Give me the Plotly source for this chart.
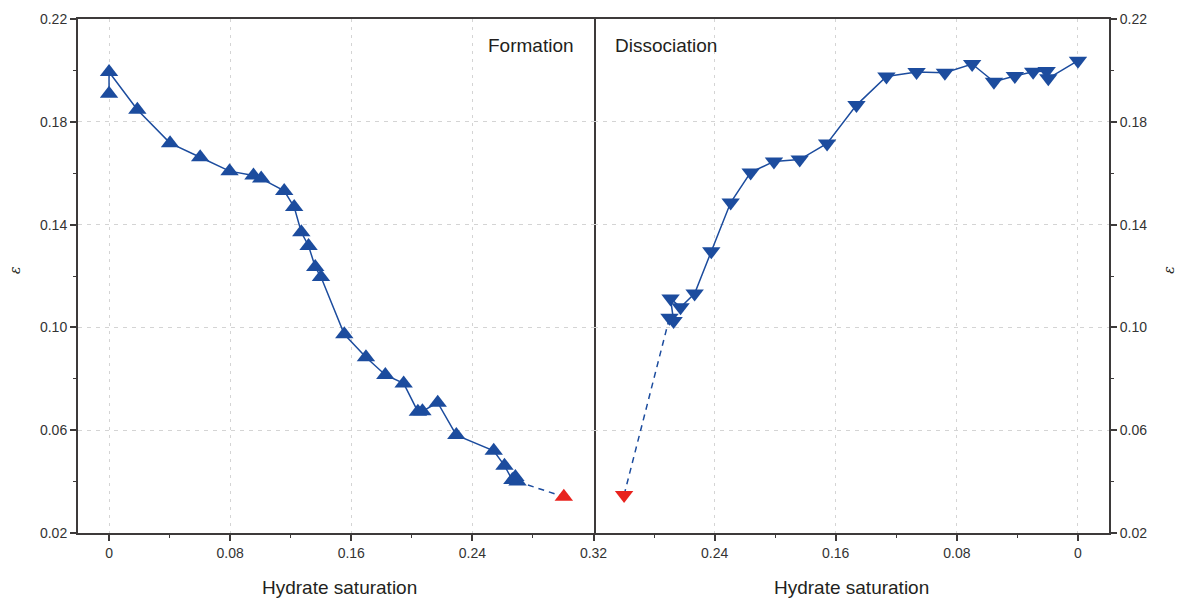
import plotly.graph_objects as go

# ---- data ----
form_x = [0.0, 0.0, 0.0187, 0.0403, 0.0602, 0.0796, 0.0954, 0.1005, 0.1157, 0.1223,
          0.1270, 0.1318, 0.1362, 0.1400, 0.1554, 0.1697, 0.1825, 0.1946, 0.2040, 0.2070,
          0.2171, 0.2294, 0.2541, 0.2612, 0.2664, 0.2684, 0.2698]
form_y = [0.1909, 0.1994, 0.1847, 0.1717, 0.1662, 0.1608, 0.1591, 0.1579, 0.1531, 0.1468,
          0.1370, 0.1317, 0.1235, 0.1196, 0.0973, 0.0884, 0.0815, 0.0782, 0.0672, 0.0674,
          0.0707, 0.0581, 0.0520, 0.0462, 0.0406, 0.0418, 0.0400]
form_end_x = [0.3004]
form_end_y = [0.0341]

diss_start_x = [0.2998]
diss_start_y = [0.0348]
diss_x = [0.2698, 0.2671, 0.2691, 0.2625, 0.2532, 0.2422, 0.2294, 0.2162, 0.2008, 0.1838,
          0.1657, 0.1463, 0.1265, 0.1066, 0.0879, 0.0699, 0.0555, 0.0417, 0.0296, 0.0207,
          0.0196, 0.0]
diss_y = [0.1038, 0.1025, 0.1112, 0.1078, 0.1132, 0.1296, 0.1486, 0.1603, 0.1646, 0.1653,
          0.1716, 0.1865, 0.1976, 0.1994, 0.1991, 0.2025, 0.1956, 0.1978, 0.1995, 0.1998,
          0.1969, 0.2038]

x_left_ticks = [0, 0.08, 0.16, 0.24, 0.32]
x_left_labels = ["0", "0.08", "0.16", "0.24", "0.32"]
x_right_ticks = [0.24, 0.16, 0.08, 0]
x_right_labels = ["0.24", "0.16", "0.08", "0"]
y_ticks = [0.02, 0.06, 0.10, 0.14, 0.18, 0.22]
y_labels = ["0.02", "0.06", "0.10", "0.14", "0.18", "0.22"]

BLUE = "#1c4c9e"
RED = "#e8231e"
AXC = "#3d3a3a"
GRIDC = "#d4d4d4"
FONT = "Liberation Sans, Arial, sans-serif"
MSIZE = 16

fig = go.Figure()

# Formation
fig.add_trace(go.Scatter(x=form_x, y=form_y, mode="lines+markers", xaxis="x", yaxis="y",
                         line=dict(color=BLUE, width=1.5),
                         marker=dict(symbol="triangle-up", size=MSIZE, color=BLUE, line=dict(width=0)),
                         showlegend=False))
fig.add_trace(go.Scatter(x=[form_x[-1]] + form_end_x, y=[form_y[-1]] + form_end_y, mode="lines",
                         xaxis="x", yaxis="y",
                         line=dict(color=BLUE, width=1.5, dash="6px,5px"), showlegend=False))
fig.add_trace(go.Scatter(x=form_end_x, y=form_end_y, mode="markers", xaxis="x", yaxis="y",
                         marker=dict(symbol="triangle-up", size=MSIZE, color=RED, line=dict(width=0)),
                         showlegend=False))

# Dissociation
fig.add_trace(go.Scatter(x=diss_start_x + [diss_x[0]], y=diss_start_y + [diss_y[0]], mode="lines",
                         xaxis="x2", yaxis="y2",
                         line=dict(color=BLUE, width=1.5, dash="6px,5px"), showlegend=False))
fig.add_trace(go.Scatter(x=diss_x, y=diss_y, mode="lines+markers", xaxis="x2", yaxis="y2",
                         line=dict(color=BLUE, width=1.5),
                         marker=dict(symbol="triangle-down", size=MSIZE, color=BLUE, line=dict(width=0)),
                         showlegend=False))
fig.add_trace(go.Scatter(x=diss_start_x, y=diss_start_y, mode="markers", xaxis="x2", yaxis="y2",
                         marker=dict(symbol="triangle-down", size=MSIZE, color=RED, line=dict(width=0)),
                         showlegend=False))

common_x = dict(showline=True, linecolor=AXC, linewidth=2, mirror=True,
                ticks="outside", ticklen=6, tickwidth=1.5, tickcolor=AXC,
                showgrid=True, gridcolor=GRIDC, griddash="3px,5px", gridwidth=1,
                zeroline=False, tickfont=dict(family=FONT, size=14, color="#333333"),
                minor=dict(ticks="outside", ticklen=3, tickwidth=1.2, tickcolor=AXC,
                           dtick=0.04, tick0=0, showgrid=False))
common_y = dict(showline=True, linecolor=AXC, linewidth=2,
                range=[0.02, 0.22], tickvals=y_ticks, ticktext=y_labels,
                ticks="outside", ticklen=6, tickwidth=1.5, tickcolor=AXC,
                showgrid=True, gridcolor=GRIDC, griddash="4px,5px", gridwidth=1,
                zeroline=False, tickfont=dict(family=FONT, size=14, color="#333333"),
                minor=dict(ticks="outside", ticklen=3, tickwidth=1.2, tickcolor=AXC,
                           dtick=0.02, tick0=0.0, showgrid=False))

fig.update_layout(
    width=1182, height=598,
    margin=dict(l=78, r=73, t=19, b=65),
    paper_bgcolor="white", plot_bgcolor="white",
    xaxis=dict(domain=[0, 0.5], range=[-0.0205, 0.32], tickvals=x_left_ticks,
               ticktext=x_left_labels, anchor="y", **common_x),
    xaxis2=dict(domain=[0.5, 1], range=[0.32, -0.0205], tickvals=x_right_ticks,
                ticktext=x_right_labels, anchor="y2", **common_x),
    yaxis=dict(anchor="x", side="left", mirror=True, **common_y),
    yaxis2=dict(anchor="x2", side="right", mirror=False, **common_y),
    annotations=[
        dict(text="Formation", xref="paper", yref="paper", x=0.483, y=0.9494,
             xanchor="right", yanchor="middle", showarrow=False,
             font=dict(family=FONT, size=19, color="#231f20")),
        dict(text="Dissociation", xref="paper", yref="paper", x=0.519, y=0.9494,
             xanchor="left", yanchor="middle", showarrow=False,
             font=dict(family=FONT, size=19, color="#231f20")),
        dict(text="Hydrate saturation", xref="paper", yref="paper", x=0.254, y=-0.107,
             xanchor="center", yanchor="middle", showarrow=False,
             font=dict(family=FONT, size=19, color="#231f20")),
        dict(text="Hydrate saturation", xref="paper", yref="paper", x=0.75, y=-0.107,
             xanchor="center", yanchor="middle", showarrow=False,
             font=dict(family=FONT, size=19, color="#231f20")),
        dict(text="<i>ε</i>", xref="paper", yref="paper", x=-0.0611, y=0.5117,
             xanchor="center", yanchor="middle", showarrow=False, textangle=-90,
             font=dict(family="DejaVu Serif, serif", size=14, color="#231f20")),
        dict(text="<i>ε</i>", xref="paper", yref="paper", x=1.058, y=0.5117,
             xanchor="center", yanchor="middle", showarrow=False, textangle=-90,
             font=dict(family="DejaVu Serif, serif", size=14, color="#231f20")),
    ],
)

fig.write_html("out.html")
